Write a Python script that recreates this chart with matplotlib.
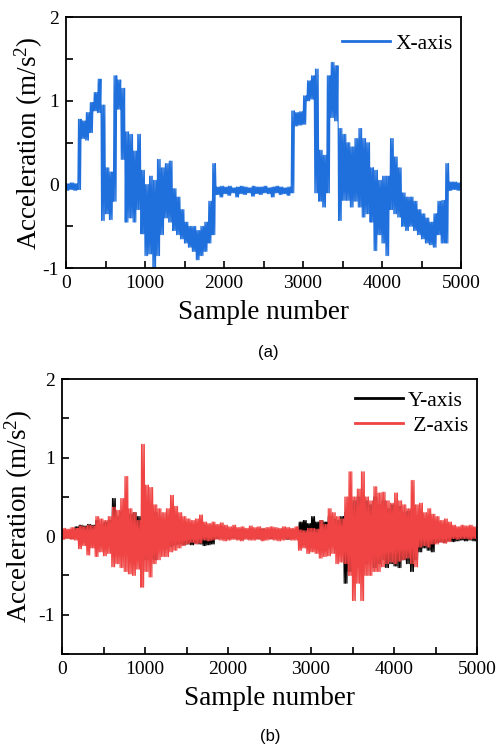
import matplotlib
matplotlib.use("Agg")
import matplotlib.pyplot as plt
from matplotlib.ticker import MultipleLocator


# every bin covers 50 samples, lo/hi are the envelope
bin_width = 50

x_lo = [
    -0.07, -0.06, -0.07, -0.06, 0.55, 0.53, 0.62, 0.88, 0.86, -0.43,
    -0.35, -0.42, -0.20, 0.90, 0.30, -0.45, -0.40, -0.45, -0.30, -0.59,
    -0.85, -0.83, -1.00, -0.85, -0.60, -0.40, -0.45, -0.55, -0.60, -0.65,
    -0.70, -0.75, -0.80, -0.90, -0.85, -0.80, -0.70, -0.60, -0.12, -0.15,
    -0.11, -0.13, -0.10, -0.15, -0.11, -0.12, -0.10, -0.14, -0.11, -0.12,
    -0.10, -0.11, -0.15, -0.10, -0.12, -0.11, -0.13, -0.10, 0.70, 0.71,
    0.72, 1.00, 1.02, -0.10, -0.20, -0.27, -0.10, 0.80, 0.76, -0.43,
    -0.19, -0.19, -0.27, -0.20, -0.27, -0.39, -0.35, -0.45, -0.79, -0.60,
    -0.70, -0.85, -0.30, -0.35, -0.39, -0.50, -0.55, -0.50, -0.55, -0.60,
    -0.65, -0.70, -0.72, -0.75, -0.60, -0.70, -0.70, -0.07, -0.06, -0.07,
]
x_hi = [
    0.01, 0.02, 0.01, 0.78, 0.76, 0.86, 0.98, 1.10, 1.26, 0.95,
    0.20, 0.15, 1.30, 1.25, 1.15, 0.63, 0.60, 0.40, 0.60, 0.17,
    0.00, 0.10, 0.05, 0.30, 0.20, 0.25, 0.28, -0.05, -0.15, -0.30,
    -0.45, -0.50, -0.50, -0.55, -0.50, -0.45, -0.20, 0.25, -0.03, -0.02,
    -0.03, -0.02, -0.04, -0.03, -0.02, -0.03, -0.04, -0.02, -0.03, -0.03,
    -0.02, -0.04, -0.03, -0.02, -0.03, -0.04, -0.03, 0.88, 0.86, 0.87,
    1.06, 1.24, 1.30, 1.38, 0.41, 0.35, 1.30, 1.46, 1.42, 0.67,
    0.60, 0.50, 0.45, 0.55, 0.67, 0.55, 0.50, 0.20, 0.17, 0.05,
    0.10, 0.10, 0.55, 0.33, 0.20, -0.10, -0.15, -0.15, -0.20, -0.30,
    -0.35, -0.40, -0.45, -0.35, -0.20, -0.19, 0.25, 0.03, 0.03, 0.02,
]

y_lo = [
    -0.03, -0.02, -0.03, 0.02, 0.03, 0.02, 0.03, 0.02, -0.05, -0.03,
    -0.05, -0.04, -0.10, -0.10, -0.15, -0.20, -0.18, -0.20, -0.25, -0.22,
    -0.30, -0.28, -0.30, -0.15, -0.12, -0.15, -0.13, -0.11, -0.10, -0.11,
    -0.10, -0.11, -0.09, -0.10, -0.12, -0.11, -0.10, -0.03, -0.02, -0.03,
    -0.03, -0.02, -0.03, -0.04, -0.02, -0.03, -0.02, -0.03, -0.04, -0.02,
    -0.03, -0.02, -0.03, -0.02, -0.04, -0.03, -0.02, 0.03, 0.04, 0.03,
    0.03, 0.04, 0.03, 0.03, -0.10, -0.08, -0.10, -0.12, -0.60, -0.45,
    -0.50, -0.40, -0.45, -0.35, -0.30, -0.40, -0.35, -0.30, -0.40, -0.35,
    -0.38, -0.40, -0.30, -0.35, -0.45, -0.30, -0.20, -0.15, -0.18, -0.20,
    -0.08, -0.07, -0.08, -0.06, -0.07, -0.06, -0.05, -0.06, -0.05, -0.06,
]
y_hi = [
    0.06, 0.05, 0.06, 0.12, 0.14, 0.13, 0.15, 0.14, 0.20, 0.15,
    0.18, 0.20, 0.48, 0.25, 0.31, 0.30, 0.28, 0.30, 0.25, 0.25,
    0.30, 0.28, 0.30, 0.20, 0.18, 0.20, 0.15, 0.05, 0.04, 0.05,
    0.05, 0.04, 0.05, 0.04, 0.05, 0.04, 0.05, 0.08, 0.07, 0.08,
    0.08, 0.07, 0.08, 0.09, 0.07, 0.08, 0.07, 0.08, 0.09, 0.07,
    0.08, 0.07, 0.08, 0.09, 0.07, 0.08, 0.07, 0.18, 0.20, 0.16,
    0.25, 0.18, 0.20, 0.18, 0.25, 0.22, 0.20, 0.25, 0.30, 0.40,
    0.45, 0.50, 0.40, 0.45, 0.40, 0.50, 0.40, 0.45, 0.35, 0.40,
    0.35, 0.38, 0.30, 0.32, 0.30, 0.25, 0.20, 0.18, 0.20, 0.15,
    0.05, 0.06, 0.05, 0.06, 0.05, 0.06, 0.05, 0.06, 0.05, 0.06,
]

z_lo = [
    -0.04, -0.03, -0.04, -0.05, -0.16, -0.12, -0.24, -0.15, -0.26, -0.20,
    -0.25, -0.22, -0.39, -0.35, -0.40, -0.45, -0.48, -0.50, -0.42, -0.65,
    -0.45, -0.52, -0.35, -0.30, -0.26, -0.26, -0.20, -0.18, -0.15, -0.12,
    -0.10, -0.08, -0.10, -0.09, -0.05, -0.06, -0.05, -0.04, -0.05, -0.06,
    -0.05, -0.04, -0.05, -0.06, -0.04, -0.05, -0.05, -0.04, -0.06, -0.05,
    -0.04, -0.05, -0.06, -0.05, -0.04, -0.05, -0.05, -0.18, -0.15, -0.22,
    -0.20, -0.22, -0.28, -0.26, -0.25, -0.22, -0.35, -0.33, -0.35, -0.50,
    -0.82, -0.60, -0.82, -0.50, -0.50, -0.45, -0.45, -0.39, -0.35, -0.33,
    -0.35, -0.32, -0.30, -0.28, -0.35, -0.39, -0.14, -0.12, -0.14, -0.10,
    -0.10, -0.08, -0.09, -0.07, -0.03, -0.04, -0.03, -0.03, -0.04, -0.03,
]
z_hi = [
    0.10, 0.09, 0.11, 0.10, 0.13, 0.12, 0.14, 0.13, 0.25, 0.22,
    0.20, 0.25, 0.37, 0.33, 0.48, 0.76, 0.35, 0.30, 0.20, 1.17,
    0.65, 0.62, 0.40, 0.35, 0.30, 0.35, 0.52, 0.38, 0.30, 0.25,
    0.22, 0.20, 0.22, 0.27, 0.18, 0.16, 0.18, 0.15, 0.17, 0.14,
    0.12, 0.14, 0.11, 0.12, 0.10, 0.13, 0.11, 0.12, 0.10, 0.11,
    0.12, 0.11, 0.10, 0.12, 0.11, 0.10, 0.12, 0.08, 0.07, 0.10,
    0.10, 0.09, 0.20, 0.15, 0.35, 0.30, 0.25, 0.22, 0.50, 0.82,
    0.50, 0.60, 0.82, 0.50, 0.45, 0.63, 0.55, 0.56, 0.45, 0.42,
    0.55, 0.45, 0.40, 0.35, 0.71, 0.40, 0.42, 0.30, 0.35, 0.28,
    0.25, 0.20, 0.22, 0.18, 0.14, 0.12, 0.14, 0.13, 0.14, 0.12,
]

x_ticks = [0, 1000, 2000, 3000, 4000, 5000]


def zigzag(lo, hi, swings=3):
    # the dense signal is drawn as a line bouncing between the low and
    # high envelope of each bin a few times
    xs, ys = [], []
    step = bin_width / (2 * swings)
    for i, (a, b) in enumerate(zip(lo, hi)):
        for k in range(swings):
            xs += [i * bin_width + 2 * k * step, i * bin_width + (2 * k + 1) * step]
            ys += [a, b]
    return xs, ys


def style_axes(ax, ylim, label_x):
    ax.set_xlim(0, 5000)
    ax.set_ylim(*ylim)
    ax.set_xticks(x_ticks)
    ax.set_yticks([v for v in [-1, 0, 1, 2] if ylim[0] <= v <= ylim[1]])
    ax.xaxis.set_minor_locator(MultipleLocator(500))
    ax.yaxis.set_minor_locator(MultipleLocator(0.5))
    ax.tick_params(which="both", direction="in", length=5, width=1.2,
                   labelsize=14, pad=5)
    for sp in ax.spines.values():
        sp.set_linewidth(1.3)
    ax.set_xlabel("Sample number", fontsize=19.5, labelpad=6)
    ax.set_ylabel("Acceleration (m/s$^2$)", fontsize=19.5)
    ax.yaxis.set_label_coords(label_x, 0.5)


def main():
    plt.rcParams["font.family"] = ["Liberation Serif", "DejaVu Serif"]
    plt.rcParams["mathtext.fontset"] = "custom"
    plt.rcParams["mathtext.rm"] = "Liberation Serif"
    plt.rcParams["mathtext.it"] = "Liberation Serif:italic"
    plt.rcParams["axes.unicode_minus"] = False

    fig = plt.figure(figsize=(5, 7.47), dpi=100)
    ax1 = fig.add_axes([0.132, 0.641, 0.790, 0.336])
    ax2 = fig.add_axes([0.124, 0.1245, 0.830, 0.368])

    xs, ys = zigzag(x_lo, x_hi)
    ax1.plot(xs, ys, color="#1f6fdc", lw=0.8, label="X-axis")
    style_axes(ax1, (-1, 2), -0.053)
    leg = ax1.legend(loc="upper right", bbox_to_anchor=(1.0, 0.968),
                     frameon=False, fontsize=15.5, handlelength=2.2,
                     handletextpad=0.25, borderaxespad=0.0)
    for h in leg.legend_handles:
        h.set_linewidth(2)

    xs, ys = zigzag(y_lo, y_hi)
    ax2.plot(xs, ys, color="black", lw=0.8, label="Y-axis")
    xs, ys = zigzag(z_lo, z_hi)
    ax2.plot(xs, ys, color="#f04343", lw=0.8, label=" Z-axis")
    style_axes(ax2, (-1.5, 2), -0.065)
    leg = ax2.legend(loc="upper right", bbox_to_anchor=(1.0, 0.99),
                     frameon=False, fontsize=15.5, handlelength=2.2,
                     handletextpad=0.25, borderaxespad=0.0,
                     labelspacing=0.25)
    for h in leg.legend_handles:
        h.set_linewidth(2)

    fig.text(0.536, 1 - 352 / 747, "(a)", ha="center", va="center",
             family="Liberation Sans", fontsize=12)
    fig.text(0.54, 1 - 736 / 747, "(b)", ha="center", va="center",
             family="Liberation Sans", fontsize=12)

    fig.savefig("out.png", dpi=100)


if __name__ == "__main__":
    main()
